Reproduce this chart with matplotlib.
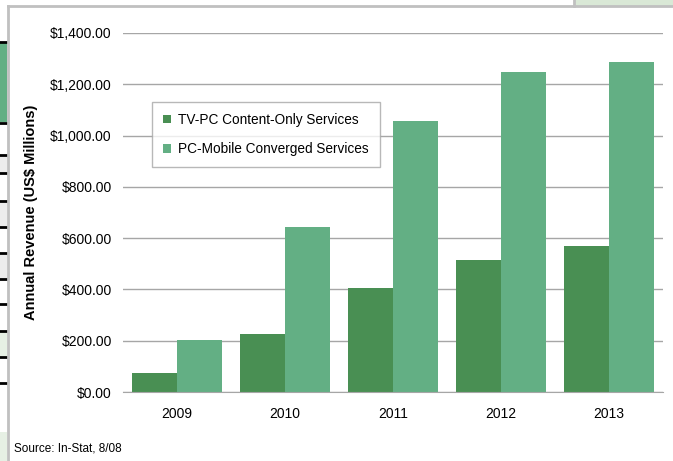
import numpy as np
import matplotlib.pyplot as plt
from matplotlib.patches import Rectangle
from matplotlib.lines import Line2D

plt.rcParams['font.family'] = ['Liberation Sans', 'DejaVu Sans']

years = ['2009', '2010', '2011', '2012', '2013']
tv_pc = [73, 225, 405, 515, 570]
pc_mobile = [202, 645, 1058, 1247, 1287]
series_names = ['TV-PC Content-Only Services', 'PC-Mobile Converged Services']
colors = ['#498F53', '#63AF84']

W, H = 673, 461
fig = plt.figure(figsize=(W / 100, H / 100), dpi=100)

# spreadsheet leftovers around the chart object
fig.patches.append(Rectangle((575 / W, 1 - 6 / H), 98 / W, 6 / H, transform=fig.transFigure,
                             facecolor='#d9e8d6', edgecolor='none'))
fig.patches.append(Rectangle((0, 1 - 122 / H), 7 / W, 80 / H, transform=fig.transFigure,
                             facecolor='#63AF84', edgecolor='none'))
for y0, y1, c in [(155, 173, '#ececec'), (201, 227, '#ececec'), (253, 279, '#ececec'),
                  (331, 357, '#e6f0e4'), (432, 461, '#e6f0e4')]:
    fig.patches.append(Rectangle((0, 1 - y1 / H), 7 / W, (y1 - y0) / H, transform=fig.transFigure,
                                 facecolor=c, edgecolor='none'))
for yy in [42, 123, 155, 173, 201, 227, 253, 279, 304, 331, 357, 383]:
    fig.add_artist(Line2D([0, 7 / W], [1 - yy / H] * 2, transform=fig.transFigure,
                          color='black', lw=2))
fig.add_artist(Line2D([8 / W, 1], [1 - 6.5 / H] * 2, transform=fig.transFigure,
                      color='#c0c0c0', lw=2))
fig.add_artist(Line2D([8 / W, 8 / W], [0, 1 - 6.5 / H], transform=fig.transFigure,
                      color='#c0c0c0', lw=2))
fig.add_artist(Line2D([574 / W, 574 / W], [1 - 6.5 / H, 1], transform=fig.transFigure,
                      color='#c0c0c0', lw=2))

ax = fig.add_axes([123 / W, 1 - 392 / H, 540 / W, 359 / H])

x = np.arange(len(years))
bw = 0.415
ax.bar(x - bw / 2, tv_pc, bw, color=colors[0], label=series_names[0], zorder=3)
ax.bar(x + bw / 2, pc_mobile, bw, color=colors[1], label=series_names[1], zorder=3)

ax.set_xlim(-0.5, len(years) - 0.5)
ax.set_ylim(0, 1400)
ax.set_yticks(np.arange(0, 1401, 200))
ax.set_yticklabels([f'${v:,.2f}' for v in np.arange(0, 1401, 200)])
ax.set_xticks(x)
ax.set_xticklabels(years)
ax.tick_params(axis='both', length=0, labelsize=10)
ax.tick_params(axis='y', pad=8)
ax.tick_params(axis='x', pad=11)
ax.grid(True, axis='y', color='#a6a6a6', lw=1, zorder=0)
for s in ['left', 'right', 'top']:
    ax.spines[s].set_visible(False)
ax.spines['bottom'].set_color('#a6a6a6')
ax.spines['bottom'].set_zorder(4)

ax.set_ylabel('Annual Revenue (US$ Millions)', fontsize=10.5, fontweight='bold')
ax.yaxis.set_label_coords(-0.157, 0.5)

leg = ax.legend(loc='upper left', bbox_to_anchor=(0.054, 0.808), borderaxespad=0,
                fontsize=9.8, frameon=True, fancybox=False, edgecolor='#a6a6a6',
                handlelength=0.6, handleheight=0.6, handletextpad=0.5,
                labelspacing=1.15, borderpad=0.8)
leg.get_frame().set_linewidth(1)

fig.text(14 / W, 1 - 448 / H, 'Source: In-Stat, 8/08', fontsize=8.5, va='center', ha='left')

fig.savefig('out.png', dpi=100)
